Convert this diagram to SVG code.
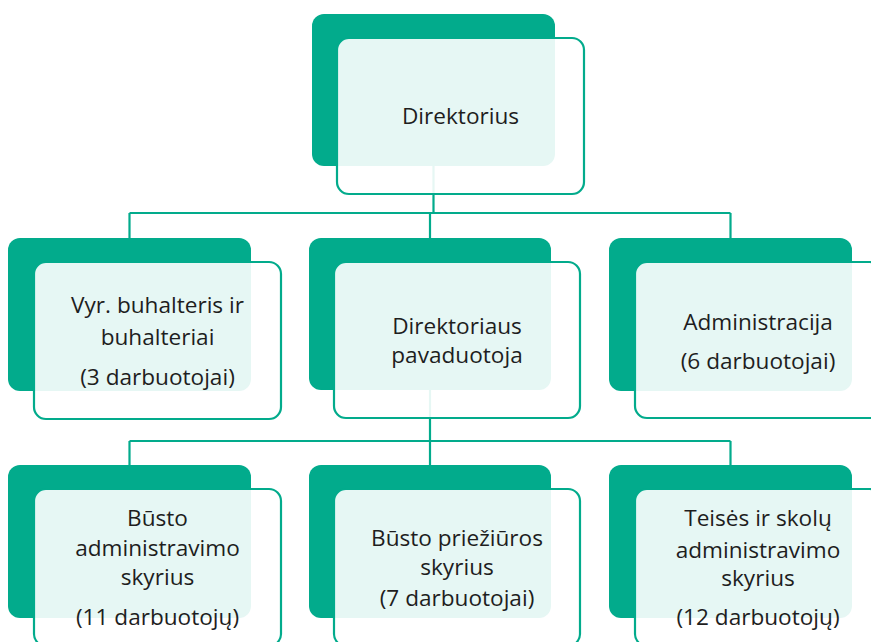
<svg xmlns="http://www.w3.org/2000/svg" width="871" height="642" viewBox="0 0 871 642">
<style>
.back{fill:#02AB8C}
.front{fill:#ffffff;fill-opacity:0.9;stroke:#02AB8C;stroke-width:2.2}
.conn{stroke:#02AB8C;stroke-width:2.2;fill:none}
text{font-family:"Open Sans","Noto Sans","DejaVu Sans",sans-serif;font-size:22.6px;fill:#1e1e1e;text-anchor:middle}
</style>
<rect width="871" height="642" fill="#ffffff"/>
<g id="connectors">
<path class="conn" d="M433.5 166 V213 M129.5 213 H730.5 M129.5 213 V238 M430 213 V238 M730.5 213 V238"/>
<path class="conn" d="M430 390 V441 M129.5 441 H730.5 M129.5 441 V465 M430 441 V465 M730.5 441 V465"/>
</g>
<g id="direktorius">
<rect class="back" x="312" y="14" width="243" height="152" rx="12"/>
<rect class="front" x="337" y="38" width="247" height="156" rx="12"/>
<text x="460.5" y="124">Direktorius</text>
</g>
<g id="buhalteris">
<rect class="back" x="8" y="238" width="243" height="153" rx="12"/>
<rect class="front" x="34" y="262" width="247" height="157" rx="12"/>
<text x="157.5" y="312.5">Vyr. buhalteris ir</text>
<text x="157.5" y="344.5">buhalteriai</text>
<text x="157.5" y="384.5">(3 darbuotojai)</text>
</g>
<g id="pavaduotoja">
<rect class="back" x="309" y="238" width="242" height="152" rx="12"/>
<rect class="front" x="334" y="262" width="246" height="156" rx="12"/>
<text x="457" y="333.5">Direktoriaus</text>
<text x="457" y="362.5">pavaduotoja</text>
</g>
<g id="administracija">
<rect class="back" x="609" y="238" width="243" height="153" rx="12"/>
<rect class="front" x="635" y="262" width="247" height="156" rx="12"/>
<text x="758" y="329.5">Administracija</text>
<text x="758" y="368.5">(6 darbuotojai)</text>
</g>
<g id="busto-administravimo">
<rect class="back" x="8" y="465" width="243" height="153" rx="12"/>
<rect class="front" x="34" y="489" width="247" height="157" rx="12"/>
<text x="157.5" y="525.5">Būsto</text>
<text x="157.5" y="555.5">administravimo</text>
<text x="157.5" y="584.5">skyrius</text>
<text x="157.5" y="624.5">(11 darbuotojų)</text>
</g>
<g id="busto-prieziuros">
<rect class="back" x="309" y="465" width="242" height="153" rx="12"/>
<rect class="front" x="334" y="489" width="246" height="157" rx="12"/>
<text x="457" y="545.5">Būsto priežiūros</text>
<text x="457" y="574.5">skyrius</text>
<text x="457" y="605.5">(7 darbuotojai)</text>
</g>
<g id="teises-skolu">
<rect class="back" x="609" y="465" width="243" height="153" rx="12"/>
<rect class="front" x="635" y="489" width="247" height="157" rx="12"/>
<text x="758" y="525.5">Teisės ir skolų</text>
<text x="758" y="557.5">administravimo</text>
<text x="758" y="585.5">skyrius</text>
<text x="758" y="624.5">(12 darbuotojų)</text>
</g>
</svg>
